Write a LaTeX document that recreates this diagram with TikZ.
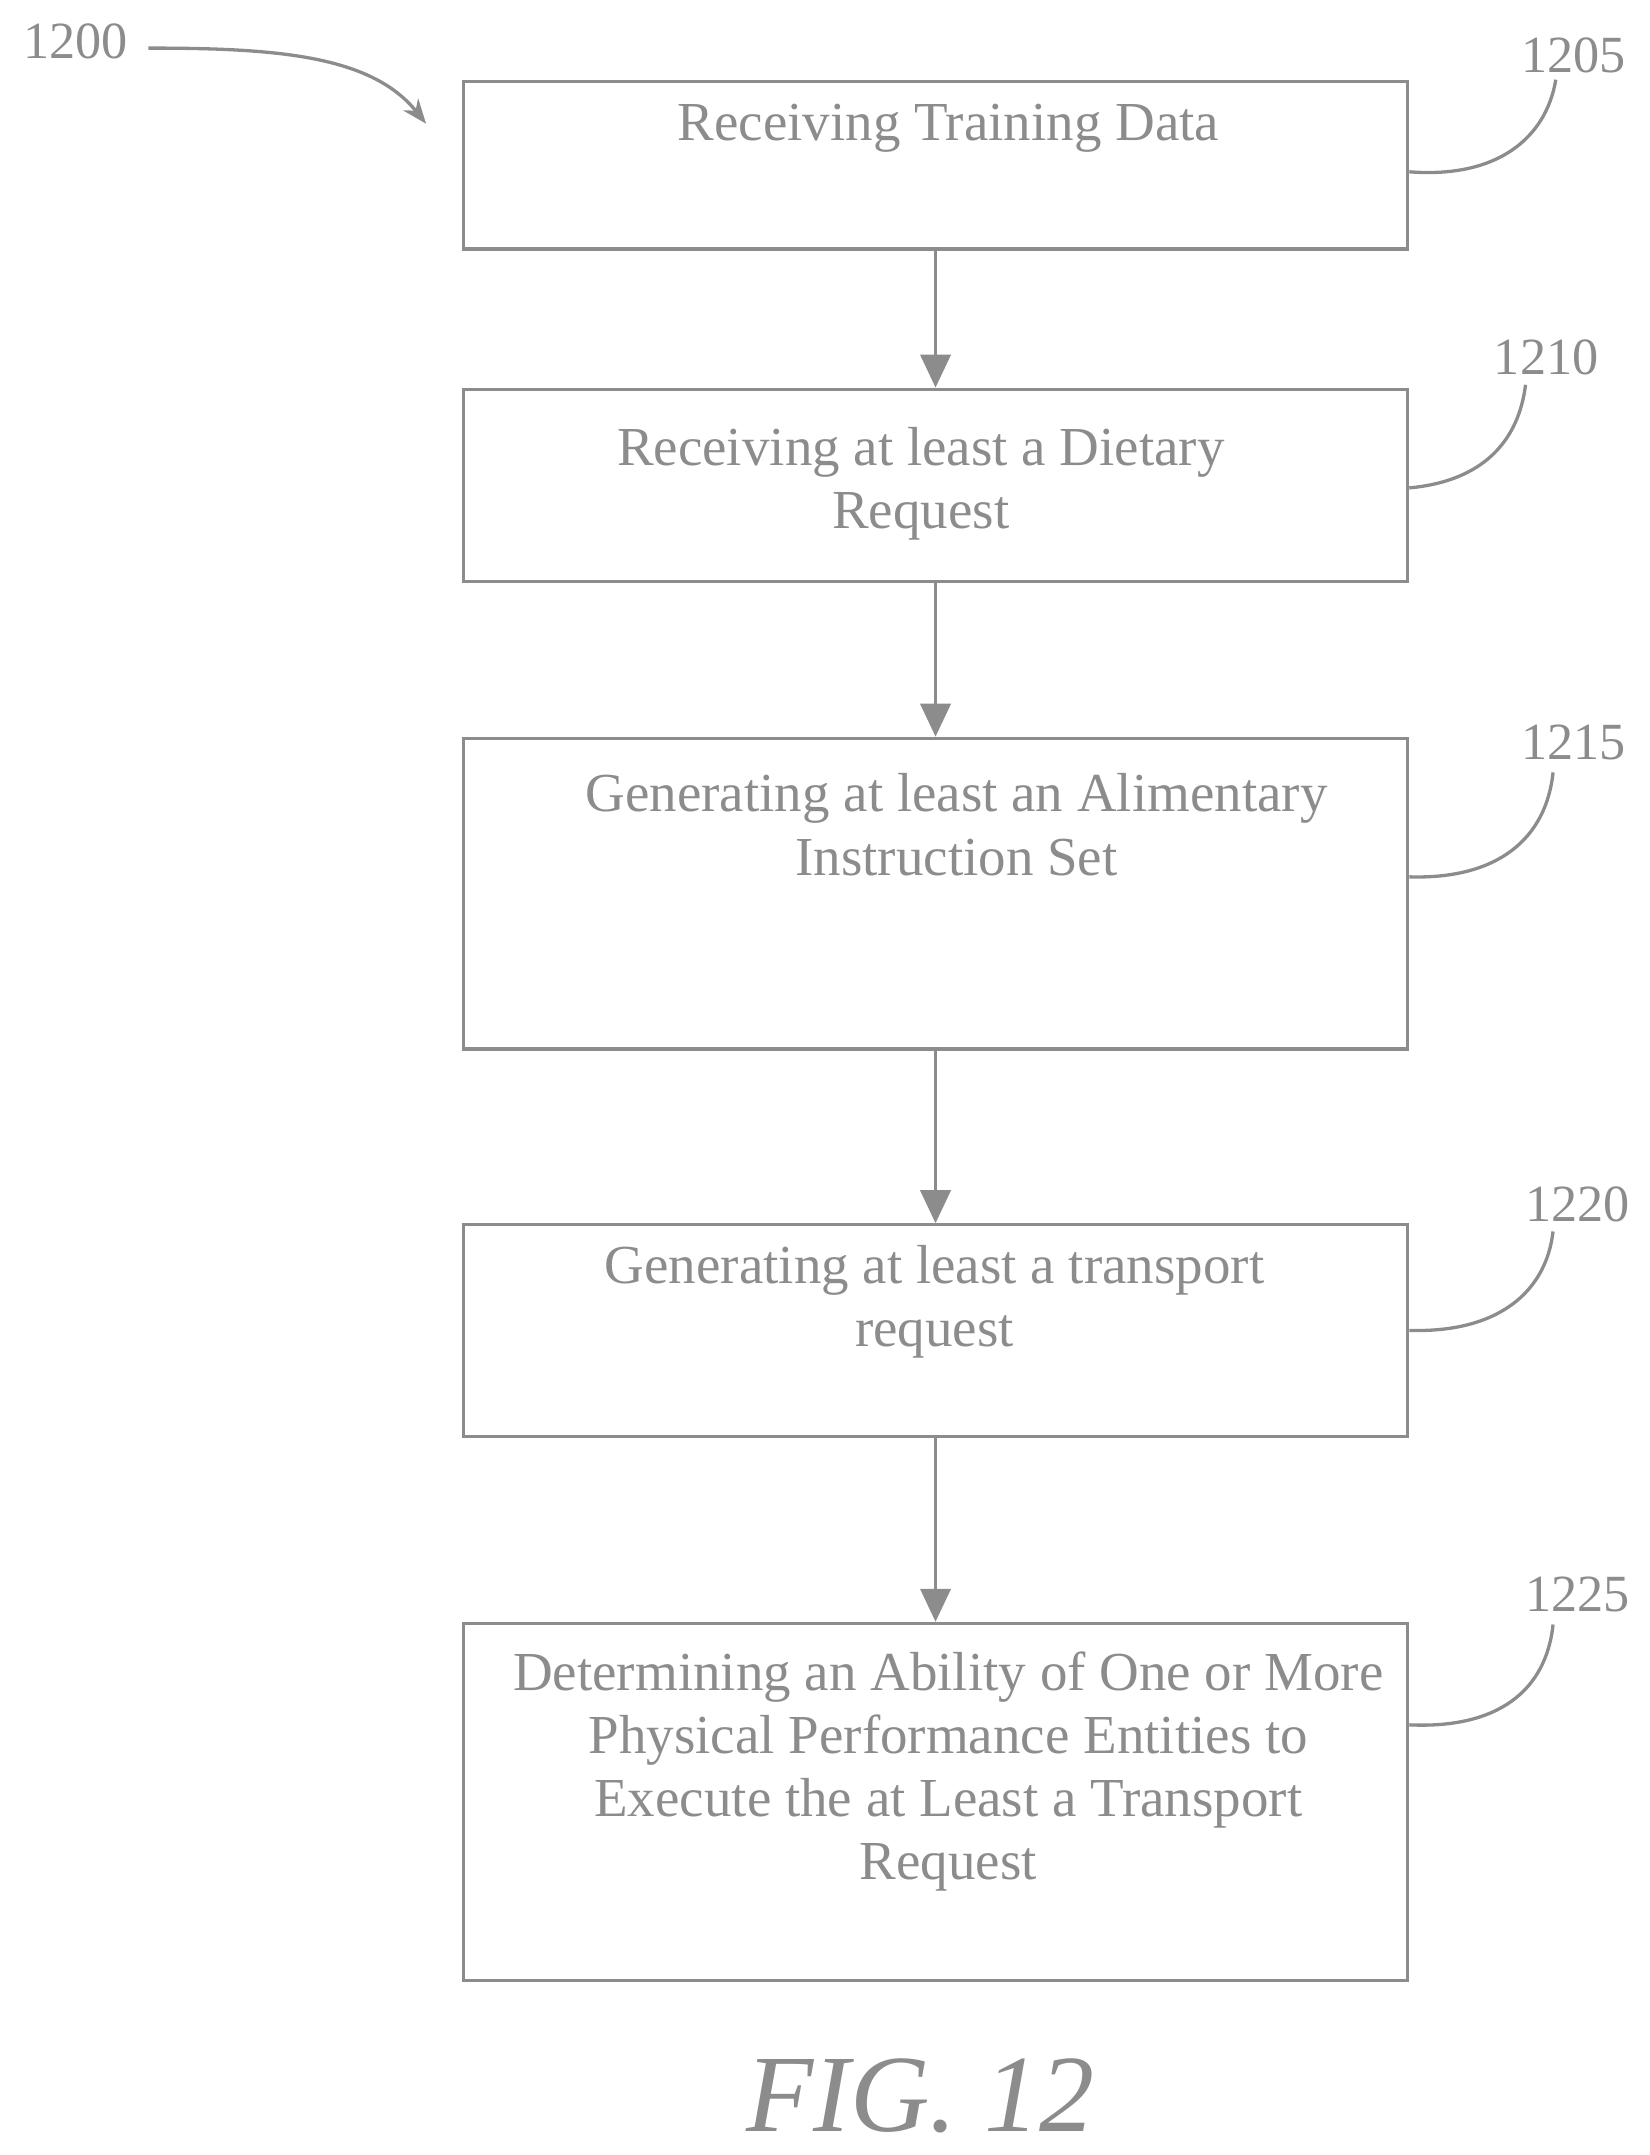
\documentclass[tikz,border=0pt]{standalone}
\usepackage{fontspec}
\setmainfont{Liberation Serif}
\usetikzlibrary{arrows.meta}
\definecolor{g}{gray}{0.55}
\begin{document}
\begin{tikzpicture}[x=0.5pt,y=-0.5pt,
  box/.style={draw=g,line width=1.2pt,minimum width=343.5pt,anchor=north west,inner sep=0pt},
  txt/.style={text=g,font=\fontsize{20}{23}\selectfont,align=center},
  lbl/.style={text=g,font=\fontsize{19}{22}\selectfont},
  arr/.style={draw=g,line width=1.2pt,-{Triangle[length=12pt,width=11pt]}},
  lead/.style={draw=g,line width=1.2pt}]
\useasboundingbox (0,0) rectangle (1200,1568);
\node[box,minimum height=61pt] (b1) at (336,58) {};
\node[box,minimum height=70pt] (b2) at (336,282) {};
\node[box,minimum height=113pt] (b3) at (336,536) {};
\node[box,minimum height=77pt] (b4) at (336,890) {};
\node[box,minimum height=130pt] (b5) at (336,1180) {};
\node[txt] (t1) at (690,93) {Receiving Training Data};
\node[txt] (t2) at (670,352) {Receiving at least a Dietary\\Request};
\node[txt] (t3) at (696,600) {Generating at least an Alimentary\\Instruction Set};
\node[txt] (t4) at (680,947) {Generating at least a transport\\request};
\node[txt] (t5) at (690,1289) {Determining an Ability of One or More\\Physical Performance Entities to\\Execute the at Least a Transport\\Request};
\draw[arr] (b1.south) -- (b2.north);
\draw[arr] (b2.south) -- (b3.north);
\draw[arr] (b3.south) -- (b4.north);
\draw[arr] (b4.south) -- (b5.north);
\node[lbl] (l0) at (55,30) {1200};
\node[lbl] (l1) at (1145,40) {1205};
\node[lbl] (l2) at (1125,260) {1210};
\node[lbl] (l3) at (1145,540) {1215};
\node[lbl] (l4) at (1148,876) {1220};
\node[lbl] (l5) at (1148,1160) {1225};
\draw[draw=g,line width=1.2pt,-{Stealth[length=9pt,width=7pt]}] (108,35) .. controls (200,35) and (270,40) .. (310,90);
\draw[lead] (b1.east|-0,125) .. controls (1090,130) and (1125,100) .. (1132,58);
\draw[lead] (b2.east|-0,355) .. controls (1080,350) and (1105,320) .. (1110,280);
\draw[lead] (b3.east|-0,638) .. controls (1090,640) and (1125,610) .. (1130,562);
\draw[lead] (b4.east|-0,968) .. controls (1090,970) and (1125,940) .. (1130,896);
\draw[lead] (b5.east|-0,1255) .. controls (1090,1258) and (1125,1230) .. (1130,1182);
\node[text=g,font=\itshape\fontsize{40}{44}\selectfont] (fig) at (670,1525) {FIG. 12};
\end{tikzpicture}
\end{document}
